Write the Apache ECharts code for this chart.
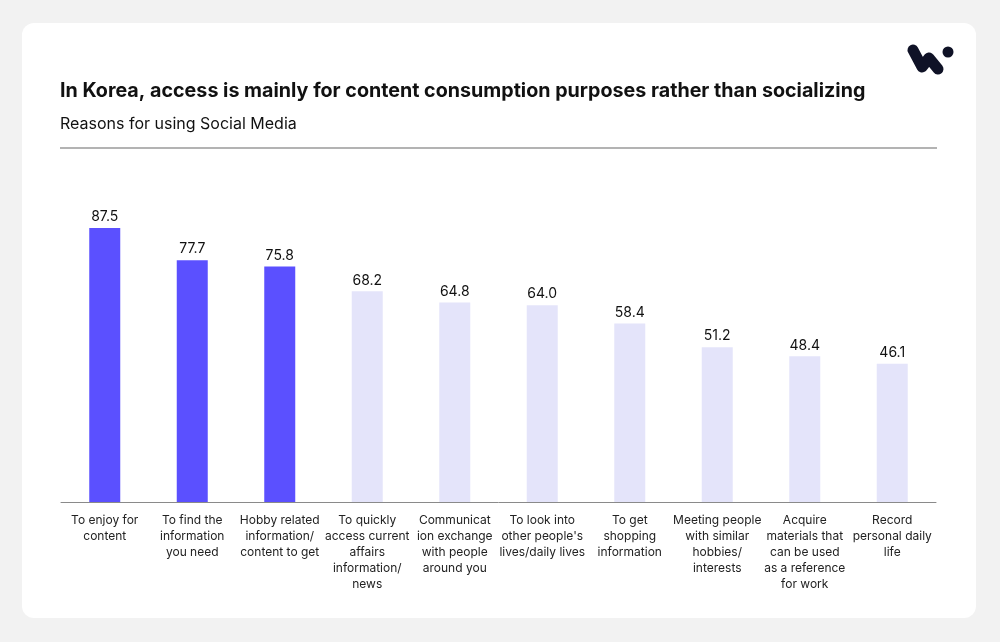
<!DOCTYPE html>
<html>
<head>
<meta charset="utf-8">
<script src="https://cdn.jsdelivr.net/npm/echarts@6/dist/echarts.min.js"></script>
<style>
html,body{margin:0;padding:0;background:#f2f2f2;}
#chart{width:1000px;height:642px;}
</style>
</head>
<body>
<div id="chart"></div>
<script>
const categories = [
  "To enjoy for\ncontent",
  "To find the\ninformation\nyou need",
  "Hobby related\ninformation/\ncontent to get",
  "To quickly\naccess current\naffairs\ninformation/\nnews",
  "Communicat\nion exchange\nwith people\naround you",
  "To look into\nother people's\nlives/daily lives",
  "To get\nshopping\ninformation",
  "Meeting people\nwith similar\nhobbies/\ninterests",
  "Acquire\nmaterials that\ncan be used\nas a reference\nfor work",
  "Record\npersonal daily\nlife"
];
const values = [87.5, 77.7, 75.8, 68.2, 64.8, 64.0, 58.4, 51.2, 48.4, 46.1];
const highlighted = [true, true, true, false, false, false, false, false, false, false];
const titleText = "In Korea, access is mainly for content consumption purposes rather than socializing";
const subtitleText = "Reasons for using Social Media";

const chart = echarts.init(document.getElementById('chart'), null, {renderer: 'canvas'});
const FONT = "Inter, 'Noto Sans', sans-serif";
chart.setOption({
  backgroundColor: '#f2f2f2',
  animation: false,
  graphic: [
    {type: 'rect', z: -10, shape: {x: 22, y: 23, width: 954, height: 595, r: 12}, style: {fill: '#ffffff'}},
    {type: 'text', left: 60, top: 81, style: {text: titleText, font: "bold 19.7px " + FONT, fill: '#111111'}},
    {type: 'text', left: 60, top: 116, style: {text: subtitleText, font: "16px " + FONT, fill: '#111111'}},
    {type: 'line', shape: {x1: 60, y1: 148, x2: 937, y2: 148}, style: {stroke: '#9a9a9a', lineWidth: 1.5}},
    {type: 'polyline', shape: {points: [[913, 50], [922, 67], [929, 58], [938, 69]]},
      style: {stroke: '#0f1226', lineWidth: 11, lineCap: 'round', lineJoin: 'round', fill: null}},
    {type: 'circle', shape: {cx: 948, cy: 52, r: 5.5}, style: {fill: '#0f1226'}}
  ],
  grid: {left: 61, right: 64, top: 187, bottom: 140, containLabel: false},
  xAxis: {
    type: 'category',
    data: categories,
    axisLine: {show: true, lineStyle: {color: '#8a8a8a', width: 1}},
    axisTick: {show: false},
    axisLabel: {interval: 0, color: '#222222', fontSize: 12, lineHeight: 16, margin: 10, fontFamily: FONT, align: 'center'}
  },
  yAxis: {
    type: 'value', min: 4, max: 100, show: false, splitLine: {show: false}
  },
  series: [{
    type: 'bar',
    data: values,
    barWidth: 31,
    itemStyle: {color: p => highlighted[p.dataIndex] ? '#5b50ff' : '#e4e4fa'},
    label: {show: true, position: 'top', distance: 4, color: '#111111', fontSize: 14, fontFamily: FONT,
      formatter: p => p.value.toFixed(1)}
  }]
});
</script>
</body>
</html>
